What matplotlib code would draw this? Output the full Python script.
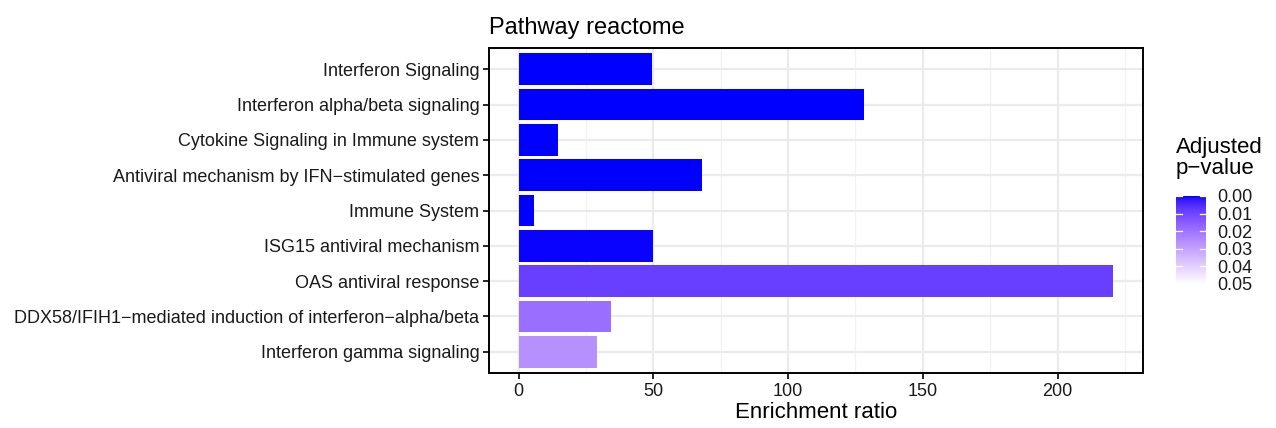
import numpy as np
import matplotlib
matplotlib.use("Agg")
import matplotlib.pyplot as plt
from matplotlib.colors import ListedColormap

plt.rcParams['font.family'] = ['Liberation Sans', 'DejaVu Sans']

pathways = [
    "Interferon Signaling",
    "Interferon alpha/beta signaling",
    "Cytokine Signaling in Immune system",
    "Antiviral mechanism by IFN\u2212stimulated genes",
    "Immune System",
    "ISG15 antiviral mechanism",
    "OAS antiviral response",
    "DDX58/IFIH1\u2212mediated induction of interferon\u2212alpha/beta",
    "Interferon gamma signaling",
]
enrichment_ratio = [49.5, 128.1, 14.4, 68.1, 5.6, 50.0, 220.7, 34.1, 29.0]
adj_pvalue = [0.0, 0.0, 0.0, 0.0, 0.0, 0.0002, 0.0085, 0.0187, 0.026]
p_limits = (0.0, 0.05)
p_breaks = [0.00, 0.01, 0.02, 0.03, 0.04, 0.05]
x_breaks = [0, 50, 100, 150, 200]


# --- blue -> white gradient interpolated in CIELAB ---
def srgb_to_lab(rgb):
    rgb = np.asarray(rgb, float)
    lin = np.where(rgb <= 0.04045, rgb / 12.92, ((rgb + 0.055) / 1.055) ** 2.4)
    M = np.array([[0.4124, 0.3576, 0.1805],
                  [0.2126, 0.7152, 0.0722],
                  [0.0193, 0.1192, 0.9505]])
    xyz = M @ lin
    wp = np.array([0.95047, 1.0, 1.08883])
    t = xyz / wp
    f = np.where(t > (6 / 29) ** 3, np.cbrt(t), t / (3 * (6 / 29) ** 2) + 4 / 29)
    return np.array([116 * f[1] - 16, 500 * (f[0] - f[1]), 200 * (f[1] - f[2])])


def lab_to_srgb(lab):
    L, a, b = lab
    fy = (L + 16) / 116
    fx = fy + a / 500
    fz = fy - b / 200
    f = np.array([fx, fy, fz])
    d = 6 / 29
    t = np.where(f > d, f ** 3, 3 * d ** 2 * (f - 4 / 29))
    xyz = t * np.array([0.95047, 1.0, 1.08883])
    Minv = np.array([[3.2406, -1.5372, -0.4986],
                     [-0.9689, 1.8758, 0.0415],
                     [0.0557, -0.2040, 1.0570]])
    lin = np.clip(Minv @ xyz, 0, 1)
    rgb = np.where(lin <= 0.0031308, 12.92 * lin, 1.055 * lin ** (1 / 2.4) - 0.055)
    return np.clip(rgb, 0, 1)


low_lab = srgb_to_lab([0, 0, 1])
high_lab = srgb_to_lab([1, 1, 1])
ramp = [lab_to_srgb(low_lab + (high_lab - low_lab) * s) for s in np.linspace(0, 1, 256)]
cmap = ListedColormap(ramp)


def pcolor(p):
    s = (p - p_limits[0]) / (p_limits[1] - p_limits[0])
    return cmap(float(np.clip(s, 0, 1)))


W, H = 1276, 428
fig = plt.figure(figsize=(W / 100, H / 100), dpi=100)
ax = fig.add_axes([489 / W, 1 - 373 / H, (1143 - 489) / W, (373 - 48) / H])

n = len(pathways)
ypos = np.arange(n)[::-1]
ax.barh(ypos, enrichment_ratio, height=0.9,
        color=[pcolor(p) for p in adj_pvalue], zorder=3)

ax.set_ylim(-0.6, n - 0.4)
xmax = max(enrichment_ratio)
ax.set_xlim(-0.05 * xmax, 1.05 * xmax)
ax.set_xticks(x_breaks)
ax.set_xticks([25, 75, 125, 175, 225], minor=True)
ax.set_yticks(ypos)
ax.set_yticklabels(pathways)

ax.grid(True, which='major', color='#EBEBEB', linewidth=1.6, zorder=0)
ax.grid(True, which='minor', axis='x', color='#F2F2F2', linewidth=0.9, zorder=0)
ax.set_axisbelow(True)
for sp in ax.spines.values():
    sp.set_color('black')
    sp.set_linewidth(1.4)
ax.tick_params(axis='both', which='major', length=4, width=1.2, color='black',
               labelsize=13, labelcolor='#1A1A1A', pad=3)
ax.tick_params(axis='x', which='minor', length=0)
ax.set_xlabel("Enrichment ratio", fontsize=16, labelpad=2)
ax.set_title("Pathway reactome", fontsize=17, loc='left', pad=10)

# colourbar legend
cax = fig.add_axes([1176 / W, 1 - 284 / H, 30 / W, 88 / H])
grad = np.linspace(p_limits[0], p_limits[1], 256).reshape(-1, 1)
cax.imshow(grad, aspect='auto', cmap=cmap, vmin=p_limits[0], vmax=p_limits[1],
           extent=[0, 1, p_limits[1], p_limits[0]])
cax.set_xlim(0, 1)
cax.set_ylim(p_limits[1], p_limits[0])
for b in p_breaks:
    cax.plot([0, 0.2], [b, b], color='white', lw=0.9)
    cax.plot([0.8, 1], [b, b], color='white', lw=0.9)
for sp in cax.spines.values():
    sp.set_visible(False)
cax.set_xticks([])
cax.yaxis.tick_right()
cax.set_yticks(p_breaks)
cax.set_yticklabels([f"{b:.2f}" for b in p_breaks])
cax.tick_params(axis='y', length=0, pad=8, labelsize=13, labelcolor='#1A1A1A')

fig.text(1176 / W, 1 - 137 / H, "Adjusted\np\u2212value", fontsize=16,
         va='top', ha='left', linespacing=1.0)

fig.savefig("out.png", dpi=100)
